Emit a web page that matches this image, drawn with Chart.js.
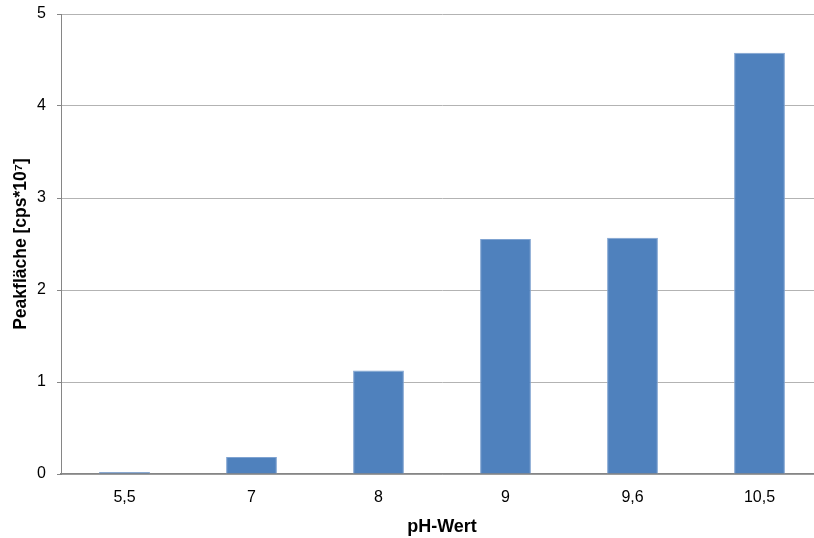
<!DOCTYPE html>
<html>
<head>
<meta charset="utf-8">
<script src="https://cdn.jsdelivr.net/npm/chart.js@4/dist/chart.umd.min.js"></script>
<style>
  html, body { margin: 0; padding: 0; background: #fff; overflow: hidden; }
  #wrap { width: 823px; height: 538px; }
</style>
</head>
<body>
<div id="wrap"><canvas id="c" width="823" height="538"></canvas></div>
<script>
// pH values and measured peak areas (cps * 10^7)
const phLabels = ['5,5', '7', '8', '9', '9,6', '10,5'];
const peakArea = [0.022, 0.184, 1.125, 2.555, 2.568, 4.578];
const yTicks = [0, 1, 2, 3, 4, 5];

const FONT = "'Liberation Sans', Arial, sans-serif";

new Chart(document.getElementById('c'), {
  type: 'bar',
  data: {
    labels: phLabels,
    datasets: [{
      data: peakArea,
      backgroundColor: '#4F81BD',
      borderColor: '#7FA3D1',
      borderWidth: { top: 1, left: 1, right: 1, bottom: 0 },
      barPercentage: 0.4,
      categoryPercentage: 1.0
    }]
  },
  options: {
    responsive: false,
    animation: false,
    layout: { padding: { top: 14, left: 0, right: 0, bottom: 0 } },
    plugins: { legend: { display: false }, tooltip: { enabled: false } },
    scales: {
      x: {
        grid: { display: false, drawTicks: false, tickLength: 0 },
        border: { display: true, color: '#868686', width: 1.5 },
        ticks: { color: '#000', font: { family: FONT, size: 16 }, padding: 14 },
        title: {
          display: true, text: 'pH-Wert', color: '#000',
          font: { family: FONT, size: 18, weight: 'bold' }, padding: { top: 4, bottom: 0 }
        },
        afterFit: (s) => { s.height = 64; s.paddingLeft = 0; s.paddingRight = 0; }
      },
      y: {
        min: 0, max: 5,
        afterBuildTicks: (s) => { s.ticks = yTicks.map(v => ({ value: v })); },
        grid: { color: '#B3B3B3', lineWidth: 1, tickLength: 4, tickColor: '#868686' },
        border: { display: true, color: '#868686', width: 1 },
        ticks: { color: '#000', font: { family: FONT, size: 16 }, padding: 11 },
        title: {
          display: true, text: 'Peakfläche [cps*10⁷]', color: '#000',
          font: { family: FONT, size: 17.5, weight: 'bold' }, padding: { top: 11, bottom: 0 }
        },
        afterFit: (s) => { s.width = 61; s.paddingTop = 0; s.paddingBottom = 0; }
      }
    }
  }
});
</script>
</body>
</html>
